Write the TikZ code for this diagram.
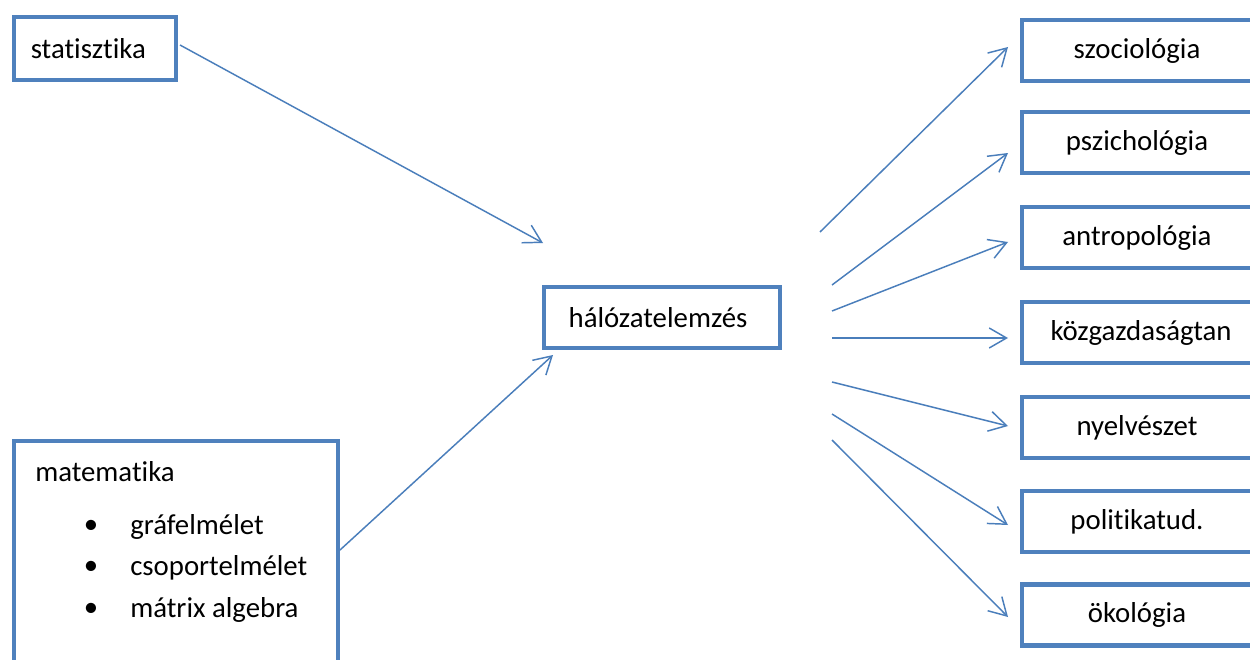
\documentclass[tikz,border=0pt]{standalone}
\usepackage{fontspec}
\setmainfont[RawFeature={-liga;-clig}]{Carlito}
\usetikzlibrary{arrows.meta}
\definecolor{boxblue}{HTML}{4F81BD}
\definecolor{arrowblue}{HTML}{4A7EBB}
\begin{document}
\begin{tikzpicture}[x=0.75pt,y=-0.75pt,
  font=\fontsize{21.6}{26}\selectfont,
  box/.style={draw=boxblue,line width=3.2pt,rectangle,inner sep=0pt,fill=white},
  conn/.style={draw=arrowblue,line width=1.1pt,-{Straight Barb[length=13pt,width=15pt]}},
  txt/.style={inner sep=0pt,anchor=west}]
\useasboundingbox (0,0) rectangle (1250,660);
\clip (0,0) rectangle (1250,660);
\fill[white] (0,0) rectangle (1250,660);

% source boxes
\node[box,minimum width=121.5pt,minimum height=47.25pt] (stat) at (95,48.5) {\hspace*{-10pt}statisztika};
\node[box,minimum width=243pt,minimum height=192.75pt] (mat) at (176,569.5) {};
\node[txt] (matt) at (35,472) {matematika};
\node[inner sep=0pt] (b1) at (91,527) {\textbullet};
\node[txt] (i1) at (130,527) {gráfelmélet};
\node[inner sep=0pt] (b2) at (91,568) {\textbullet};
\node[txt] (i2) at (130,568) {csoportelmélet};
\node[inner sep=0pt] (b3) at (91,610) {\textbullet};
\node[txt] (i3) at (130,610) {mátrix algebra};

% hub
\node[box,minimum width=177pt,minimum height=45.75pt] (hub) at (662,317.5) {\hspace*{-6pt}hálózatelemzés};

% target boxes
\tikzset{tbox/.style={box,minimum width=178.5pt,minimum height=45.75pt}}
\node[tbox] (szoc) at (1141,50.5) {\hspace*{-6pt}szociológia};
\node[tbox] (psz) at (1141,142.5) {\hspace*{-6pt}pszichológia};
\node[tbox] (antr) at (1141,237.5) {\hspace*{-6pt}antropológia};
\node[tbox] (kozg) at (1141,332.5) {közgazdaságtan};
\node[tbox] (nyelv) at (1141,427.5) {\hspace*{-6pt}nyelvészet};
\node[tbox] (pol) at (1141,521.5) {\hspace*{-6pt}politikatud.};
\node[tbox] (okol) at (1141,615) {\hspace*{-6pt}ökológia};

% arrow end points
\coordinate (s0) at (180,45);   \coordinate (s1) at (543,243);
\coordinate (m0) at (340,550);  \coordinate (m1) at (553,355);
\coordinate (o1) at (820,232);  \coordinate (e1) at (1008,47);
\coordinate (o2) at (832,285);  \coordinate (e2) at (1008,153);
\coordinate (o3) at (832,311);  \coordinate (e3) at (1008,242);
\coordinate (o4) at (832,338);  \coordinate (e4) at (1008,338);
\coordinate (o5) at (832,382);  \coordinate (e5) at (1008,426);
\coordinate (o6) at (832,414);  \coordinate (e6) at (1008,525);
\coordinate (o7) at (832,440);  \coordinate (e7) at (1008,617);

% connectors
\draw[conn] (s0) -- (s1);
\draw[conn] (m0) -- (m1);
\foreach \i in {1,...,7} \draw[conn] (o\i) -- (e\i);
\end{tikzpicture}
\end{document}
